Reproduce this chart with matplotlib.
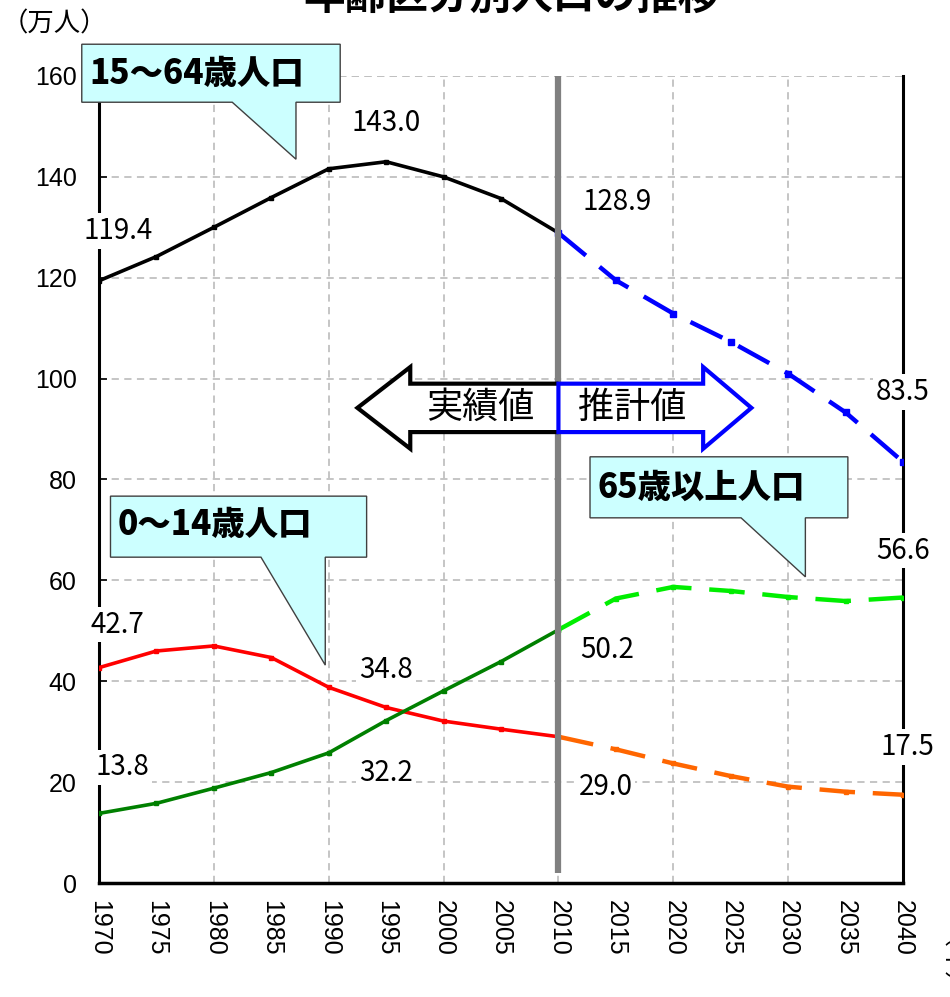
import matplotlib.pyplot as plt
from matplotlib.patches import Polygon

plt.rcParams['font.family'] = ['Noto Sans CJK JP', 'DejaVu Sans']

years_actual = [1970, 1975, 1980, 1985, 1990, 1995, 2000, 2005, 2010]
years_proj = [2010, 2015, 2020, 2025, 2030, 2035, 2040]

pop_15_64 = [119.4, 124.2, 130.0, 135.9, 141.6, 143.0, 140.0, 135.7, 128.9]
proj_15_64 = [128.9, 119.5, 112.9, 107.3, 101.0, 93.3, 83.5]
pop_0_14 = [42.7, 46.0, 47.0, 44.7, 38.8, 34.8, 32.1, 30.5, 29.0]
proj_0_14 = [29.0, 26.5, 23.7, 21.2, 19.1, 18.1, 17.5]
pop_65 = [13.8, 15.8, 18.8, 21.9, 25.8, 32.2, 38.1, 43.9, 50.2]
proj_65 = [50.2, 56.4, 58.7, 57.9, 56.7, 55.9, 56.6]

xtick_years = list(range(1970, 2041, 5))
ytick_values = list(range(0, 161, 20))
grid_years = list(range(1980, 2031, 10))

fig = plt.figure(figsize=(9.5, 9.97), dpi=100)
ax = fig.add_axes([99 / 950, 114 / 997, 804 / 950, 807 / 997])

# actual values (solid) and projections (dashed)
ax.plot(years_actual, pop_15_64, color='black', lw=2.6, marker='s', ms=3.5, zorder=4)
ax.plot(years_actual, pop_0_14, color='#FF0000', lw=2.6, marker='s', ms=3, zorder=4)
ax.plot(years_actual, pop_65, color='#008000', lw=2.6, marker='s', ms=3, zorder=4)
ax.plot(years_proj, proj_15_64, color='#0000FF', lw=3.2, ls=(0, (8, 4)), marker='s', ms=4, zorder=4)
ax.plot(years_proj, proj_0_14, color='#FF6600', lw=3.2, ls=(0, (8, 4)), marker='s', ms=3, zorder=4)
ax.plot(years_proj, proj_65, color='#00EE00', lw=3.2, ls=(0, (8, 4)), marker='s', ms=3, zorder=4)

# boundary between actual and projected
ax.vlines(2010, 2, 160, color='#808080', lw=4.5, zorder=5)

ax.set_xlim(1970, 2040)
ax.set_ylim(0, 160)
ax.set_yticks(ytick_values, [str(v) for v in ytick_values], fontsize=18, fontfamily='Liberation Sans')
ax.set_xticks(xtick_years, [str(y) for y in xtick_years], rotation=-90, fontsize=18,
              fontfamily='Liberation Sans')
ax.set_xticks(grid_years, minor=True)
ax.tick_params(axis='x', which='major', length=0, pad=12)
ax.tick_params(axis='x', which='minor', length=6, width=1.2, direction='in')
ax.tick_params(axis='y', which='major', length=6, width=1.2, direction='in', pad=16)
ax.grid(True, axis='y', which='major', color='#C0C0C0', ls=(0, (4, 3)), lw=1.3)
ax.vlines(grid_years, 0, 160, color='#C0C0C0', ls=(0, (4, 3)), lw=1.3, zorder=1)
ax.axhline(160, color='#C0C0C0', ls=(0, (4, 3)), lw=1.3)
ax.spines['top'].set_visible(False)
for side in ['left', 'right', 'bottom']:
    ax.spines[side].set_color('black')
ax.spines['left'].set_linewidth(2.2)
ax.spines['right'].set_linewidth(2.2)
ax.spines['bottom'].set_linewidth(2.5)

# value labels
labels = [(1970, 119.4, 19, 50), (1995, 143.0, 0, 39), (2010, 128.9, 59, 31), (2040, 83.5, 0, 70),
          (1970, 42.7, 18, 43), (1995, 34.8, 0, 37), (2010, 29.0, 47, -50), (2040, 17.5, 4, 48),
          (1970, 13.8, 23, 46), (1995, 32.2, 0, -52), (2010, 50.2, 49, -20), (2040, 56.6, 0, 47)]
for x, y, dx, dy in labels:
    ax.annotate('{:.1f}'.format(y), (x, y), xytext=(dx, dy), textcoords='offset pixels',
                ha='center', va='center', fontsize=20, zorder=7, annotation_clip=False,
                bbox=dict(boxstyle='square,pad=0.1', fc='white', ec='none'))

# arrows 実績値 / 推計値
left_arrow = Polygon([(2010, 99.0), (1997.1, 99.0), (1997.1, 102.3), (1992.5, 94.2),
                      (1997.1, 86.1), (1997.1, 89.4), (2010, 89.4)], closed=False,
                     fc='white', ec='black', lw=3, zorder=6, joinstyle='miter')
ax.add_patch(left_arrow)
right_arrow = Polygon([(2010, 99.0), (2022.6, 99.0), (2022.6, 102.3), (2026.8, 94.2),
                       (2022.6, 86.1), (2022.6, 89.4), (2010, 89.4)], closed=True,
                      fc='white', ec='#0000FF', lw=3, zorder=6, joinstyle='miter')
ax.add_patch(right_arrow)
ax.text(2003.2, 94.2, '実績値', ha='center', va='center', fontsize=26, zorder=7)
ax.text(2016.4, 94.2, '推計値', ha='center', va='center', fontsize=26, zorder=7)

# callouts
callouts = [
    ('15〜64歳人口', 1968.5, 1991.0, 166.3, 154.8, 1981.6, 1987.15, 143.5, 1969.2, 160.6),
    ('0〜14歳人口', 1971.0, 1993.3, 76.7, 64.6, 1984.1, 1989.7, 43.2, 1971.6, 71.0),
    ('65歳以上人口', 2012.75, 2035.2, 84.5, 72.4, 2025.9, 2031.5, 60.7, 2013.4, 78.5),
]
for text, l, r, t, b, p1, p2, tip, tx, ty in callouts:
    shape = Polygon([(l, t), (r, t), (r, b), (p2, b), (p2, tip), (p1, b), (l, b)], closed=True,
                    fc='#CCFFFF', ec='#404040', lw=1, zorder=8, clip_on=False)
    ax.add_patch(shape)
    ax.text(tx, ty, text, ha='left', va='center', fontsize=24, fontweight='heavy', zorder=9)

fig.text(512 / 950, 1 - 18 / 997, '年齢区分別人口の推移', ha='center', va='bottom',
         fontsize=30, fontweight='bold')
fig.text(2 / 950, 1 - 24 / 997, '（万人）', ha='left', va='center', fontsize=19)
fig.text(937 / 950, 1 - 938 / 997, '（年）', ha='left', va='center', rotation=-90,
         rotation_mode='anchor', fontsize=18)

plt.savefig('out.png', dpi=100)
